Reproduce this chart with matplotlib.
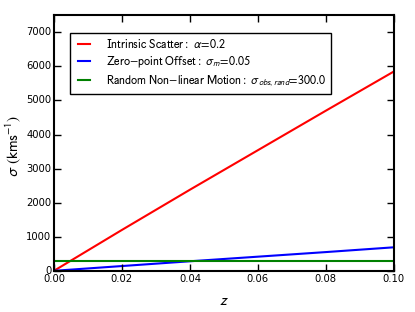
import matplotlib
matplotlib.use('Agg')
import matplotlib.pyplot as plt

# redshift samples and velocity dispersion
z = [0.0, 0.02, 0.04, 0.06, 0.08, 0.10]
sigma_scatter = [0, 1200, 2380, 3540, 4700, 5850]
sigma_offset = [0, 140, 280, 415, 550, 690]
sigma_rand = [300, 300, 300, 300, 300, 300]

labels = [r'$\mathrm{Intrinsic\ Scatter:}\ \alpha\!=\!0.2$',
          r'$\mathrm{Zero{-}point\ Offset:}\ \sigma_m\!=\!0.05$',
          r'$\mathrm{Random\ Non{-}linear\ Motion:}\ \sigma_{obs,rand}\!=\!300.0$']

plt.style.use('classic')
plt.rcParams['mathtext.fontset'] = 'stixsans'

fig = plt.figure(figsize=(4.15, 3.12), dpi=100)
fig.patch.set_facecolor('white')
ax = fig.add_axes([0.130, 0.132, 0.819, 0.819])

ax.plot(z, sigma_scatter, color='r', lw=1.5, label=labels[0])
ax.plot(z, sigma_offset, color='b', lw=1.5, label=labels[1])
ax.plot(z, sigma_rand, color='g', lw=1.5, label=labels[2])

ax.set_xlim(0, 0.1)
ax.set_ylim(0, 7500)
ax.set_xticks([0.0, 0.02, 0.04, 0.06, 0.08, 0.10])
ax.set_xticklabels(['0.00', '0.02', '0.04', '0.06', '0.08', '0.10'])
ax.tick_params(labelsize=7.2, length=5, width=1, pad=2)
for s in ax.spines.values():
    s.set_linewidth(1.5)

ax.set_xlabel(r'$z$', fontsize=11)
ax.set_ylabel(r'$\sigma\ (\mathrm{kms^{-1}})$', fontsize=11)
ax.xaxis.set_label_coords(0.5, -0.085)
ax.yaxis.set_label_coords(-0.09, 0.49)

leg = ax.legend(loc='upper left', fontsize=8.7, handlelength=1.6,
                handletextpad=1.0, borderpad=0.4,
                bbox_to_anchor=(0.047, 0.93), borderaxespad=0.0,
                labelspacing=0.3)
leg.get_frame().set_linewidth(1.0)

plt.savefig('out.png', dpi=100)
